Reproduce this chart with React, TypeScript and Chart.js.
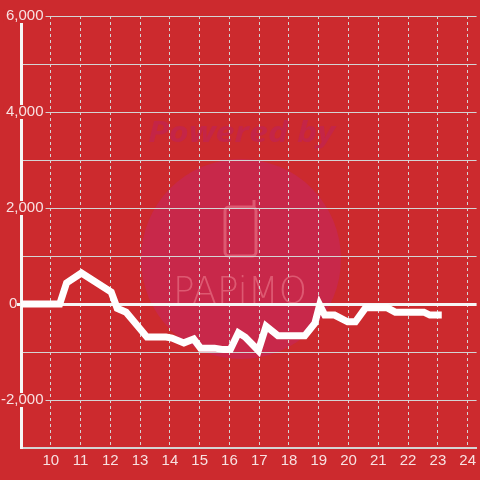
import React, { useEffect, useRef } from 'react';
import { Chart, registerables } from 'chart.js';

Chart.register(...registerables);

// ---- data (hour of day, value) ----
const hours = [9, 10.3, 10.53, 11.03, 12.03, 12.23, 12.53, 13.23, 13.87, 14.07, 14.47, 14.8, 15.03, 15.5, 15.8, 16.03, 16.3, 16.53, 16.97, 17.23, 17.63, 18.53, 18.87, 19.03, 19.2, 19.53, 19.97, 20.23, 20.57, 21.3, 21.57, 22.53, 22.73, 23.13];
const values = [0, 0, 440, 645, 250, -90, -170, -690, -690, -710, -810, -730, -920, -920, -950, -950, -600, -690, -970, -460, -660, -660, -400, -20, -230, -230, -370, -370, -80, -80, -170, -170, -230, -230];

const xTickValues = [10, 11, 12, 13, 14, 15, 16, 17, 18, 19, 20, 21, 22, 23, 24];
const yTickValues = [-3000, -2000, -1000, 0, 1000, 2000, 3000, 4000, 5000, 6000];
const yLabelValues = [-2000, 0, 2000, 4000, 6000];

const BG = '#cc2a2e';
const LABEL = 'rgba(255,255,255,0.86)';
const GRID = '#d4d4d4';
const WHITE = '#f6f6f6';
const ZERO_PAD = '      \u200A';

function drawFitted(ctx: CanvasRenderingContext2D, text: string, x: number, y: number, w: number) {
  const m = ctx.measureText(text).width;
  ctx.save();
  ctx.translate(x, y);
  ctx.scale(w / m, 1);
  ctx.fillText(text, 0, 0);
  ctx.restore();
}

const watermark = {
  id: 'bgWatermark',
  beforeDraw(chart: any) {
    const { ctx, width, height } = chart;
    ctx.save();
    ctx.fillStyle = BG;
    ctx.fillRect(0, 0, width, height);
    ctx.fillStyle = '#c8284a';
    ctx.beginPath();
    ctx.arc(241, 259, 100, 0, Math.PI * 2);
    ctx.fill();
    ctx.fillStyle = '#c42547';
    ctx.font = 'italic bold 28px "Open Sans"';
    ctx.textBaseline = 'alphabetic';
    drawFitted(ctx, 'Powered by', 148, 142, 187);
    const pink = 'rgba(238,130,145,0.55)';
    ctx.strokeStyle = pink;
    ctx.lineWidth = 3;
    ctx.beginPath();
    ctx.roundRect(225, 207, 31, 49, 4);
    ctx.moveTo(254, 207);
    ctx.lineTo(254, 200);
    ctx.stroke();
    ctx.fillStyle = pink;
    ctx.font = '200 38px "DejaVu Sans"';
    drawFitted(ctx, 'PAPiMO', 173, 303, 134);
    ctx.restore();
  },
};

export default function App() {
  const ref = useRef<HTMLCanvasElement | null>(null);
  useEffect(() => {
    if (!ref.current) return;
    const chart = new Chart(ref.current, {
      type: 'line',
      data: {
        datasets: [
          {
            data: hours.map((h, i) => ({ x: h, y: values[i] })),
            borderColor: '#ffffff',
            borderWidth: 7,
            pointRadius: 0,
            tension: 0,
            fill: false,
            borderJoinStyle: 'miter',
            borderCapStyle: 'butt',
          },
        ],
      },
      options: {
        responsive: false,
        animation: false,
        layout: { padding: { top: 16, right: 0, left: 0, bottom: 0 } },
        plugins: { legend: { display: false }, tooltip: { enabled: false } },
        scales: {
          x: {
            type: 'linear',
            min: 9,
            max: 24.3,
            afterBuildTicks: (s: any) => {
              s.ticks = xTickValues.map((v) => ({ value: v }));
            },
            afterFit: (s: any) => {
              s.height = 32;
            },
            grid: { color: GRID, lineWidth: 1, drawTicks: false },
            border: { color: GRID, width: 2, dash: [3, 3] },
            ticks: {
              color: LABEL,
              font: { size: 15 },
              padding: 4,
              maxRotation: 0,
              autoSkip: false,
              callback: (v: any) => String(v),
            },
          },
          y: {
            type: 'linear',
            min: -3000,
            max: 6000,
            afterBuildTicks: (s: any) => {
              s.ticks = yTickValues.map((v) => ({ value: v }));
            },
            afterFit: (s: any) => {
              s.width = 21;
            },
            grid: {
              color: (c: any) => (c.tick && c.tick.value === 0 ? WHITE : GRID),
              lineWidth: (c: any) => (c.tick && c.tick.value === 0 ? 3 : 1),
              drawTicks: true,
              tickLength: 4,
              tickColor: (c: any) => (c.tick && c.tick.value === 0 ? WHITE : 'rgba(0,0,0,0)'),
              tickWidth: 3,
            },
            border: { color: WHITE, width: 3 },
            ticks: {
              color: LABEL,
              font: { size: 15, lineHeight: '14px' },
              mirror: true,
              padding: -20,
              crossAlign: 'far',
              showLabelBackdrop: true,
              backdropColor: (c: any) =>
                c.tick && c.tick.value !== 0 && yLabelValues.includes(c.tick.value) ? BG : 'rgba(0,0,0,0)',
              backdropPadding: { x: 2, y: 0 },
              callback: (v: any) =>
                yLabelValues.includes(v) ? (v === 0 ? '0' + ZERO_PAD : Number(v).toLocaleString('en-US')) : '',
            },
          },
        },
      },
      plugins: [watermark],
    } as any);
    return () => chart.destroy();
  }, []);
  return (
    <div style={{ position: 'absolute', left: 0, top: 0, width: 480, height: 480 }}>
      <canvas ref={ref} width={480} height={480} style={{ display: 'block' }} />
    </div>
  );
}
